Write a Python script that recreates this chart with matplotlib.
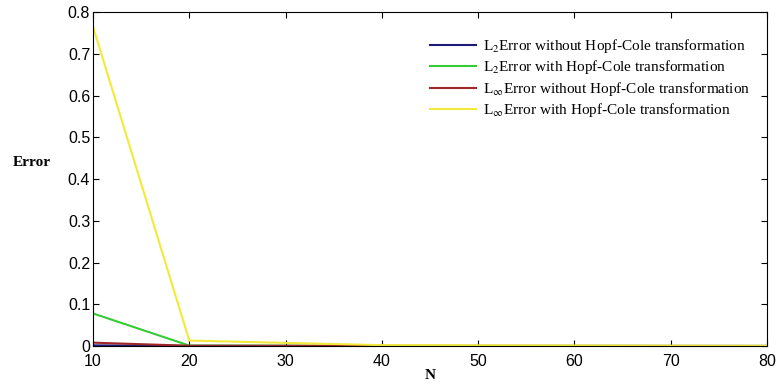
import matplotlib
matplotlib.use("Agg")
import matplotlib.pyplot as plt

# error values
N = [10, 20, 40, 80]
l2_without = [0.0015, 0.0003, 0.0001, 0.00003]
l2_with = [0.078, 0.001, 0.0002, 0.00005]
linf_without = [0.008, 0.0006, 0.0002, 0.00005]
linf_with = [0.765, 0.013, 0.002, 0.0003]

labels = [
    "L$_2$Error without Hopf-Cole transformation",
    "L$_2$Error with Hopf-Cole transformation",
    "L$_\\infty$Error without Hopf-Cole transformation",
    "L$_\\infty$Error with Hopf-Cole transformation",
]
colors = ["#1c1c78", "#33cc33", "#a02828", "#f2ea3a"]

plt.rcParams["mathtext.fontset"] = "stix"

fig = plt.figure(figsize=(7.77, 3.91), dpi=100)
ax = fig.add_axes([0.1197, 0.1151, 0.8673, 0.8540])

series = [l2_without, l2_with, linf_without, linf_with]
for s, lab, c in zip(series, labels, colors):
    ax.plot(N, s, color=c, lw=1.5, label=lab)

ax.set_xlim(10, 80)
ax.set_ylim(0, 0.8)
ax.set_xticks(range(10, 81, 10))
ax.set_yticks([0, 0.1, 0.2, 0.3, 0.4, 0.5, 0.6, 0.7, 0.8])
ax.set_yticklabels(["0", "0.1", "0.2", "0.3", "0.4", "0.5", "0.6", "0.7", "0.8"])
ax.tick_params(direction="in", top=True, right=True, labelsize=11.5, length=4)
ax.tick_params(axis="y", pad=2)
ax.tick_params(axis="x", pad=6)
for lbl in ax.get_xticklabels() + ax.get_yticklabels():
    lbl.set_family("Liberation Sans")

fig.text(0.041, 0.585, "Error", fontfamily="Liberation Serif", fontweight="bold",
         fontsize=11, ha="center", va="center")
ax.set_xlabel("N", fontfamily="Liberation Serif", fontweight="bold", fontsize=11, labelpad=0)

leg = ax.legend(loc="upper left", bbox_to_anchor=(0.5, 0.925), frameon=False,
                prop={"family": "Liberation Serif", "size": 11},
                borderpad=0, borderaxespad=0,
                handlelength=3.0, handletextpad=0.5, labelspacing=0.22)

fig.savefig("out.png", dpi=100)
